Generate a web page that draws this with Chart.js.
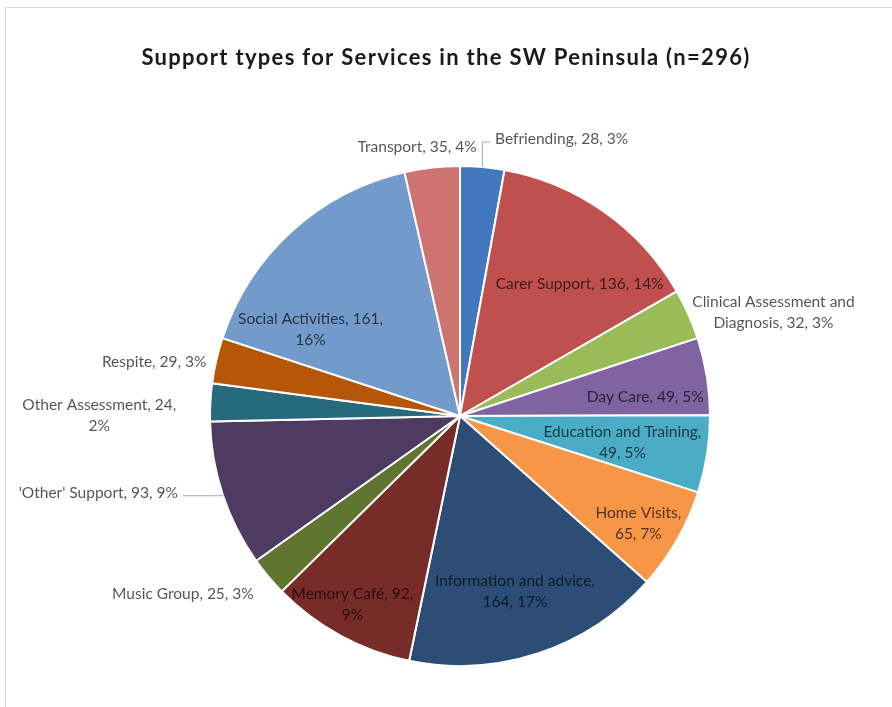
<!DOCTYPE html>
<html>
<head>
<meta charset="utf-8">
<title>Support types for Services in the SW Peninsula</title>
<script src="https://cdn.jsdelivr.net/npm/chart.js@4.4.1/dist/chart.umd.min.js"></script>
<style>
    body { margin: 0; background: #fff; }
    #frame {
        position: absolute; left: 5px; top: 7px; width: 900px; height: 710px;
        border-left: 1px solid #d9d9d9; border-top: 1px solid #d9d9d9;
    }
    canvas { position: absolute; left: 0; top: 0; }
</style>
</head>
<body>
<div id="frame"></div>
<canvas id="support-pie" width="892" height="707"></canvas>
<script>
const chartTitle = 'Support types for Services in the SW Peninsula (n=296)';
const categories = [
    'Befriending', 'Carer Support', 'Clinical Assessment and Diagnosis', 'Day Care',
    'Education and Training', 'Home Visits', 'Information and advice', 'Memory Café',
    'Music Group', '\'Other\' Support', 'Other Assessment', 'Respite',
    'Social Activities', 'Transport'
];
const counts = [28, 136, 32, 49, 49, 65, 164, 92, 25, 93, 24, 29, 161, 35];
const colours = [
    '#4178be', '#c0504d', '#9bbb59', '#8064a2', '#4bacc6', '#f79646', '#2c4d75',
    '#772c2a', '#5f7530', '#4d3b62', '#276a7c', '#b65708', '#729aca', '#cd7371'
];

// where each data label sits: radius factor, angle shift (deg) from slice middle,
// words on the first line, and whether it gets a leader line
const labelPlacement = [
    {rf: 1.18, shift: 15.0, wrap: 0, leader: true},
    {rf: 0.714, shift: 6.9, wrap: 0},
    {rf: 1.32, shift: 5.8, wrap: 3},
    {rf: 0.745, shift: 3.3, wrap: 0},
    {rf: 0.658, shift: 0.3, wrap: 3},
    {rf: 0.833, shift: 1.4, wrap: 2},
    {rf: 0.734, shift: 0.9, wrap: 3},
    {rf: 0.869, shift: 1.1, wrap: 3},
    {rf: 1.318, shift: 7.2, wrap: 0},
    {rf: 1.479, shift: 6.35, wrap: 0, leader: true},
    {rf: 1.443, shift: -2.96, wrap: 3},
    {rf: 1.242, shift: -2.86, wrap: 0},
    {rf: 0.691, shift: -17.55, wrap: 3},
    {rf: 1.09, shift: -2.64, wrap: 0}
];

const total = counts.reduce((a, b) => a + b, 0);

const titleText = {
    id: 'titleText',
    afterDraw(chart) {
        const ctx = chart.ctx;
        ctx.save();
        ctx.font = 'bold 22px Lato';
        ctx.letterSpacing = '1.3px';
        ctx.fillStyle = '#1a1a1a';
        ctx.textAlign = 'center';
        ctx.textBaseline = 'middle';
        ctx.fillText(chartTitle, 446, 58);
        ctx.restore();
    }
};

const sliceLabels = {
    id: 'sliceLabels',
    afterDatasetsDraw(chart) {
        const ctx = chart.ctx;
        const arcs = chart.getDatasetMeta(0).data;
        ctx.save();
        ctx.font = '15.5px Lato';
        ctx.textAlign = 'center';
        ctx.textBaseline = 'middle';
        const lineHeight = 21;

        arcs.forEach((arc, i) => {
            const place = labelPlacement[i];
            const mid = (arc.startAngle + arc.endAngle) / 2;
            const ang = mid + place.shift * Math.PI / 180;
            const r = arc.outerRadius * place.rf;
            const x = arc.x + Math.cos(ang) * r;
            const y = arc.y + Math.sin(ang) * r;

            const pct = Math.round(counts[i] / total * 100);
            const words = `${categories[i]}, ${counts[i]}, ${pct}%`.split(' ');
            let lines = [words.join(' ')];
            if (place.wrap) {
                lines = [words.slice(0, place.wrap).join(' '), words.slice(place.wrap).join(' ')];
            }

            ctx.fillStyle = 'rgba(0, 0, 0, 0.68)';
            const top = y - (lines.length - 1) * lineHeight / 2;
            lines.forEach((line, k) => ctx.fillText(line, x, top + k * lineHeight));

            if (place.leader) {
                const w = ctx.measureText(lines[0]).width;
                const edgeX = arc.x + Math.cos(mid) * arc.outerRadius;
                const edgeY = arc.y + Math.sin(mid) * arc.outerRadius;
                const startX = edgeX > x ? x + w / 2 + 5 : x - w / 2 - 5;
                const ly = y + 3;
                ctx.strokeStyle = '#a6a6a6';
                ctx.lineWidth = 1;
                ctx.beginPath();
                ctx.moveTo(startX, ly);
                ctx.lineTo(edgeX, ly);
                ctx.lineTo(edgeX, edgeY);
                ctx.stroke();
            }
        });
        ctx.restore();
    }
};

new Chart(document.getElementById('support-pie'), {
    type: 'pie',
    data: {
        labels: categories,
        datasets: [
            {
                data: counts,
                backgroundColor: colours,
                borderColor: '#ffffff',
                borderWidth: 2
            }
        ]
    },
    options: {
        responsive: false,
        animation: false,
        layout: {
            padding: {left: 150, right: 122, top: 165, bottom: 40}
        },
        plugins: {
            legend: {display: false},
            tooltip: {enabled: false},
            title: {display: false}
        }
    },
    plugins: [sliceLabels, titleText]
});
</script>
</body>
</html>
